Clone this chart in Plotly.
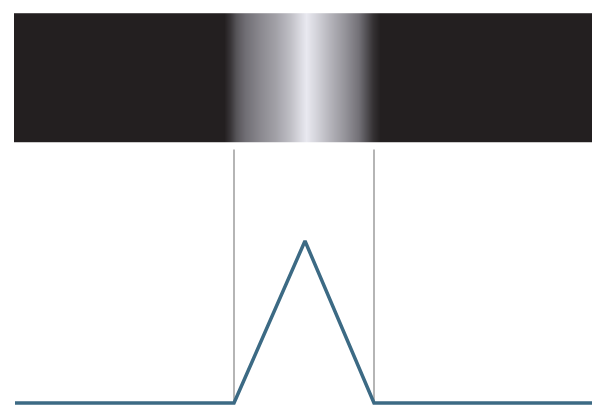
import plotly.graph_objects as go

# Intensity profile (line below the bar)
profile_x = [15, 234, 305, 374, 592]
profile_v = [0, 0, 1, 0, 0]

# Vertical guide lines positions
guide_x = [234, 374]

# Brightness read across the bar (0 = dark, 1 = brightest)
bar_x = [16, 20, 224, 230, 236, 245, 260, 275, 290, 300, 306, 315, 330, 345, 358, 366, 373, 380, 586, 590]
bar_b = [0, 0, 0, 0.1, 0.24, 0.36, 0.5, 0.62, 0.78, 0.92, 1.0, 0.9, 0.72, 0.55, 0.38, 0.22, 0.08, 0, 0, 0]

bar_y = [1.609, 1.613, 2.400, 2.404]

fig = go.Figure()

fig.add_trace(go.Heatmap(
    x=bar_x, y=bar_y, z=[bar_b for _ in bar_y],
    colorscale=[[0, "#231f20"], [0.35, "#6e6c72"], [1, "#e9e9f0"]],
    zmin=0, zmax=1, zsmooth="best", showscale=False, hoverinfo="skip",
))

for gx in guide_x:
    fig.add_trace(go.Scatter(
        x=[gx, gx], y=[1.565, 0], mode="lines",
        line=dict(color="#9c9c9c", width=1.5), hoverinfo="skip", showlegend=False,
    ))

fig.add_trace(go.Scatter(
    x=profile_x, y=profile_v, mode="lines",
    line=dict(color="#3c6a84", width=3.5), hoverinfo="skip", showlegend=False,
))

# page body has an 8px margin; compensate so positions match the page
fig.update_layout(
    width=592, height=400,
    margin=dict(l=0, r=0, t=0, b=0),
    paper_bgcolor="white", plot_bgcolor="white",
    xaxis=dict(range=[8, 600], visible=False, fixedrange=True),
    yaxis=dict(range=[(403 - 408) / 162, (403 - 8) / 162], visible=False, fixedrange=True),
    showlegend=False,
)

fig.write_html("out.html")
